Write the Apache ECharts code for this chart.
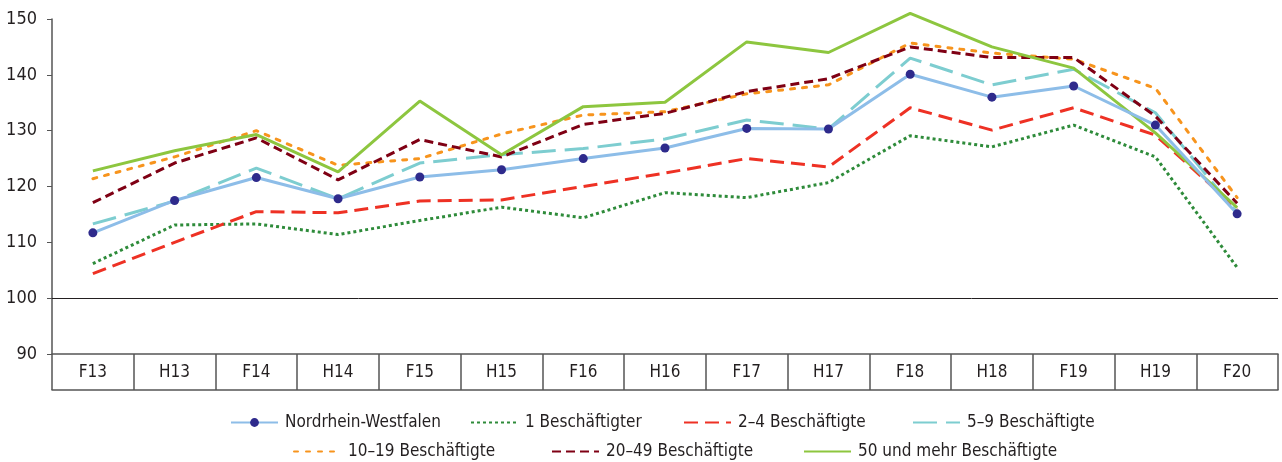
<!DOCTYPE html>
<html>
<head>
<meta charset="utf-8">
<script src="https://cdn.jsdelivr.net/npm/echarts@6/dist/echarts.min.js"></script>
<style>
html,body{margin:0;padding:0;background:#fff;}
#main{width:1282px;height:462px;}
</style>
</head>
<body>
<div id="main"></div>
<script>
var categories = ['F13','H13','F14','H14','F15','H15','F16','H16','F17','H17','F18','H18','F19','H19','F20'];

var nrw      = [111.7,117.5,121.6,117.8,121.7,123.0,125.0,126.9,130.4,130.3,140.1,136.0,138.0,131.0,115.1];
var b1       = [106.2,113.1,113.3,111.4,113.9,116.3,114.4,118.9,118.0,120.7,129.1,127.1,131.0,125.3,105.5];
var b2_4     = [104.4,110.0,115.5,115.3,117.4,117.6,120.0,122.4,125.0,123.5,134.1,130.1,134.1,129.2,116.0];
var b5_9     = [113.3,117.4,123.3,117.8,124.2,125.7,126.8,128.5,131.9,130.3,143.0,138.2,141.0,133.2,115.3];
var b10_19   = [121.4,125.3,130.0,123.8,125.0,129.4,132.8,133.4,136.6,138.2,145.7,143.9,142.8,137.6,118.0];
var b20_49   = [117.1,124.2,128.7,121.2,128.4,125.3,131.1,133.1,137.0,139.3,145.0,143.1,143.1,132.6,117.0];
var b50      = [122.8,126.4,129.3,122.6,135.3,125.7,134.3,135.1,145.9,144.0,151.0,145.0,141.2,129.6,116.2];

var names = ['Nordrhein-Westfalen','1 Beschäftigter','2–4 Beschäftigte','5–9 Beschäftigte',
             '10–19 Beschäftigte','20–49 Beschäftigte','50 und mehr Beschäftigte'];

var font = '"DejaVu Sans Condensed","Liberation Sans Narrow",sans-serif';

function lineSeries(name, data, color, dash, cap){
	return {
		name: name,
		type: 'line',
		data: data,
		symbol: 'none',
		clip: false,
		z: 2,
		itemStyle: {color: color},
		lineStyle: {color: color, width: 3, type: dash, cap: cap || 'butt'}
	};
}

// legend for one item, left = icon start
function legendAt(name, left, top, hideSymbol){
	var lg = {
		data: [name],
		left: left - 5,
		top: top,
		itemWidth: 47,
		itemHeight: 11,
		itemGap: 0,
		textStyle: {fontFamily: font, fontSize: 17, color: '#231f20', padding: [0,0,0,2]},
		selectedMode: false
	};
	if (hideSymbol) {
		lg.itemStyle = {opacity: 0};
	}
	return lg;
}

var chart = echarts.init(document.getElementById('main'));

var series = [
	{
		name: names[0],
		type: 'line',
		data: nrw,
		symbol: 'circle',
		symbolSize: 9,
		clip: false,
		z: 3,
		itemStyle: {color: '#2e2a8c'},
		lineStyle: {color: '#8dbde8', width: 3},
		markLine: {
			silent: true,
			symbol: 'none',
			label: {show: false},
			lineStyle: {color: '#231f20', width: 1, type: 'solid'},
			data: [{yAxis: 100}]
		}
	},
	lineSeries(names[1], b1, '#2e8b3a', [3,3]),
	lineSeries(names[2], b2_4, '#ee3124', [14,7]),
	lineSeries(names[3], b5_9, '#7dcdd0', [24,9]),
	lineSeries(names[4], b10_19, '#f7941d', [4,8], 'round'),
	lineSeries(names[5], b20_49, '#7f0014', [9,5]),
	lineSeries(names[6], b50, '#8dc63f', 'solid')
];

var option = {
	animation: false,
	backgroundColor: '#fff',
	grid: {left: 52, right: 4, top: 19, bottom: 108},
	legend: [
		legendAt(names[0], 230, 409, false),
		legendAt(names[1], 470, 409, true),
		legendAt(names[2], 683, 409, true),
		legendAt(names[3], 912, 409, true),
		legendAt(names[4], 293, 438, true),
		legendAt(names[5], 551, 438, true),
		legendAt(names[6], 803, 438, true)
	],
	xAxis: [{
		type: 'category',
		data: categories,
		boundaryGap: true,
		axisLine: {show: true, lineStyle: {color: '#555', width: 1.5}},
		axisTick: {show: true, length: 36, lineStyle: {color: '#555', width: 1.5}},
		axisLabel: {fontFamily: font, fontSize: 17, color: '#231f20', margin: 10}
	}, {
		type: 'category',
		data: categories,
		position: 'bottom',
		offset: 36,
		axisLine: {show: true, lineStyle: {color: '#555', width: 1.5}},
		axisTick: {show: false},
		axisLabel: {show: false}
	}],
	yAxis: {
		type: 'value',
		min: 90,
		max: 150,
		interval: 10,
		axisLine: {show: true, lineStyle: {color: '#555', width: 1.5}},
		axisTick: {show: true, length: 5, lineStyle: {color: '#555'}},
		splitLine: {show: false},
		axisLabel: {fontFamily: font, fontSize: 18, color: '#231f20', margin: 15}
	},
	series: series
};
chart.setOption(option);
</script>
</body>
</html>
